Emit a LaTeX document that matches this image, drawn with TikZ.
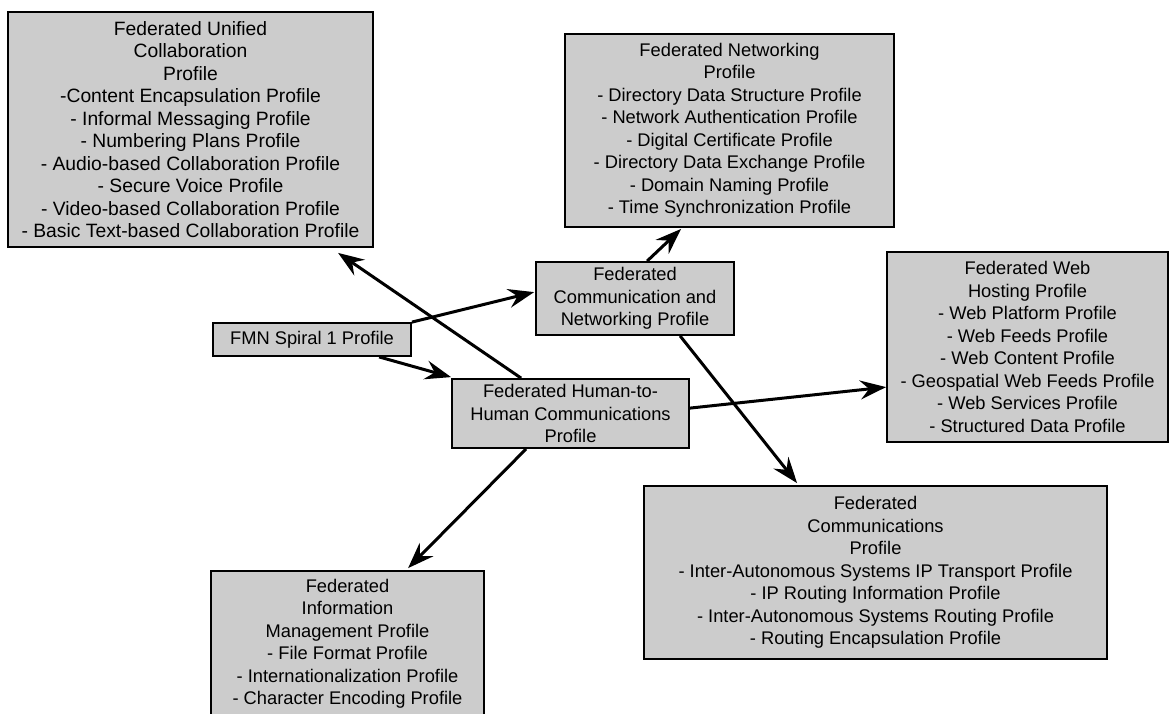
\documentclass[tikz,border=0pt]{standalone}
\usepackage{fontspec}
\setmainfont{Liberation Sans}
\usetikzlibrary{arrows.meta,calc}
\definecolor{boxgray}{RGB}{204,204,204}
\begin{document}
\begin{tikzpicture}[x=1pt,y=-1pt,
  pbox/.style={draw=black, fill=boxgray, line width=1.8pt, align=center,
    font=\fontsize{18.3}{22.5}\selectfont, inner sep=0pt, anchor=center},
  arr/.style={line width=3pt, -{Stealth[length=26pt,width=19pt,inset=9pt]}}]
\useasboundingbox (0,0) rectangle (1170,713);
\node[pbox, font=\fontsize{19.3}{22.5}\selectfont, minimum width=365, minimum height=235] (uni) at (190.5,129.5)
  {Federated Unified\\Collaboration\\Profile\\-Content Encapsulation Profile\\- Informal Messaging Profile\\- Numbering Plans Profile\\- Audio-based Collaboration Profile\\- Secure Voice Profile\\- Video-based Collaboration Profile\\- Basic Text-based Collaboration Profile};
\node[pbox, minimum width=329, minimum height=193] (net) at (729.5,130.5)
  {Federated Networking\\Profile\\- Directory Data Structure Profile\\- Network Authentication Profile\\- Digital Certificate Profile\\- Directory Data Exchange Profile\\- Domain Naming Profile\\- Time Synchronization Profile};
\node[pbox, minimum width=198, minimum height=73] (cn) at (635,298.5)
  {Federated\\Communication and\\Networking Profile};
\node[pbox, minimum width=198, minimum height=33] (spiral) at (312,339.5)
  {FMN Spiral 1 Profile};
\node[pbox, minimum width=237, minimum height=69] (h2h) at (570.5,413.5)
  {Federated Human-to-\\Human Communications\\Profile};
\node[pbox, minimum width=281, minimum height=190] (web) at (1027.5,347)
  {Federated Web\\Hosting Profile\\- Web Platform Profile\\- Web Feeds Profile\\- Web Content Profile\\- Geospatial Web Feeds Profile\\- Web Services Profile\\- Structured Data Profile};
\node[pbox, minimum width=463, minimum height=173] (comm) at (875.5,572.5)
  {Federated\\Communications\\Profile\\- Inter-Autonomous Systems IP Transport Profile\\- IP Routing Information Profile\\- Inter-Autonomous Systems Routing Profile\\- Routing Encapsulation Profile};
\node[pbox, minimum width=273, minimum height=146] (info) at (347.5,644)
  {Federated\\Information\\Management Profile\\- File Format Profile\\- Internationalization Profile\\- Character Encoding Profile};
\draw[arr] ($(h2h.north west)+(70,0)$) -- ($(uni.south west)+(331,5)$);
\draw[arr] (spiral.north east) -- ($(cn.north west)+(-1,31)$);
\draw[arr] ($(spiral.south west)+(167,0)$) -- ($(h2h.north west)+(0,-1)$);
\draw[arr] ($(cn.north west)+(112,0)$) -- ($(net.south west)+(117,1)$);
\draw[arr] ($(cn.south west)+(145,0)$) -- ($(comm.north west)+(154,-2)$);
\draw[arr] ($(h2h.north east)+(0,30)$) -- ($(web.north west)+(0,136)$);
\draw[arr] ($(h2h.south west)+(75,0)$) -- ($(info.north west)+(198,-2)$);
\end{tikzpicture}
\end{document}
